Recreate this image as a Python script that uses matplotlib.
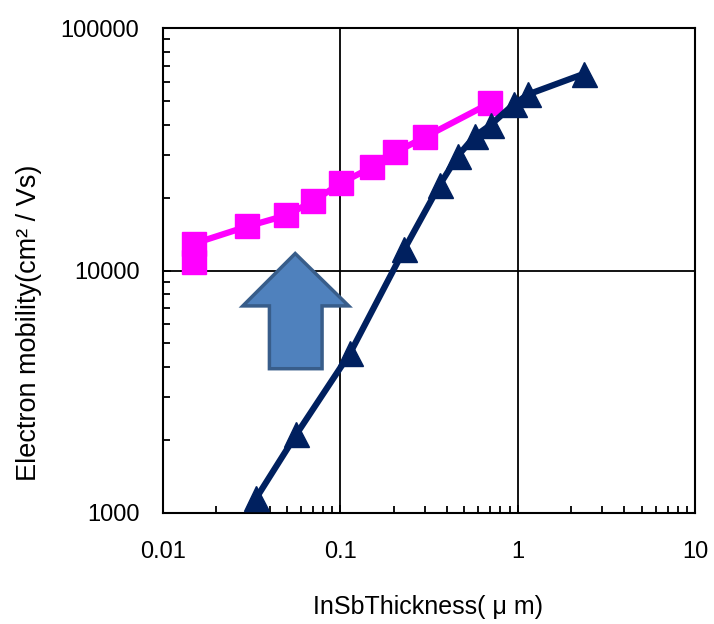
import matplotlib
matplotlib.use("Agg")
import matplotlib.pyplot as plt
from matplotlib.patches import Polygon
from matplotlib.ticker import LogLocator, FixedLocator, NullFormatter

# Data
pink_x = [0.0149, 0.0149, 0.0299, 0.0497, 0.0702, 0.1005, 0.151, 0.204, 0.300, 0.698]
pink_y = [10860, 12900, 15200, 16900, 19300, 22900, 26700, 30700, 35500, 49000]
navy_x = [0.0335, 0.0565, 0.1138, 0.2297, 0.364, 0.458, 0.573, 0.705, 0.95, 1.15, 2.36]
navy_y = [1150, 2110, 4580, 12250, 22600, 29600, 35800, 39900, 48500, 53300, 64700]

x_ticks = [0.01, 0.1, 1, 10]
x_labels = ["0.01", "0.1", "1", "10"]
y_ticks = [1000, 10000, 100000]
y_labels = ["1000", "10000", "100000"]

sans = ["Liberation Sans", "DejaVu Sans"]

fig = plt.figure(figsize=(7.14, 6.24), dpi=100)
ax = fig.add_axes([0.2283, 0.1779, 0.9734 - 0.2283, 0.9551 - 0.1779])
ax.set_xscale("log")
ax.set_yscale("log")
ax.set_xlim(0.01, 10)
ax.set_ylim(1000, 100000)

ax.grid(True, which="major", color="black", linewidth=1.3)
ax.set_axisbelow(True)

ax.plot(pink_x, pink_y, color="#FF00FF", linewidth=4.5, marker="s",
        markersize=17, markerfacecolor="#FF00FF", markeredgecolor="#FF00FF", zorder=3)
ax.plot(navy_x, navy_y, color="#00205F", linewidth=4.5, marker="^",
        markersize=18, markerfacecolor="#00205F", markeredgecolor="#00205F", zorder=4)

# Up arrow (axes-fraction coordinates)
arrow_pts = [(0.2485, 0.535), (0.349, 0.427), (0.299, 0.427), (0.299, 0.2975),
             (0.200, 0.2975), (0.200, 0.427), (0.150, 0.427)]
ax.add_patch(Polygon(arrow_pts, closed=True, transform=ax.transAxes,
                     facecolor="#4F81BD", edgecolor="#385D8A", linewidth=2.5, zorder=5))

ax.xaxis.set_major_locator(FixedLocator(x_ticks))
ax.set_xticklabels(x_labels)
ax.yaxis.set_major_locator(FixedLocator(y_ticks))
ax.set_yticklabels(y_labels)
ax.xaxis.set_minor_locator(LogLocator(base=10, subs=range(2, 10)))
ax.yaxis.set_minor_locator(LogLocator(base=10, subs=range(2, 10)))
ax.xaxis.set_minor_formatter(NullFormatter())
ax.yaxis.set_minor_formatter(NullFormatter())

ax.tick_params(which="both", direction="in", width=1.3, top=False, right=False)
ax.tick_params(which="major", length=6)
ax.tick_params(which="minor", length=5)
ax.tick_params(axis="y", which="major", pad=17, labelsize=17)
ax.tick_params(axis="x", which="major", pad=20, labelsize=17)
for lab in ax.get_xticklabels() + ax.get_yticklabels():
    lab.set_family(sans)

for s in ax.spines.values():
    s.set_linewidth(1.5)

fig.text(0.040, 0.483, "Electron mobility(cm\u00b2 / Vs)", rotation=90,
         ha="center", va="center", fontsize=19.5, family=sans)
fig.text(0.600, 0.027, "InSbThickness( \u03bc m)", ha="center", va="center",
         fontsize=18, family=sans)

fig.savefig("out.png", dpi=100)
